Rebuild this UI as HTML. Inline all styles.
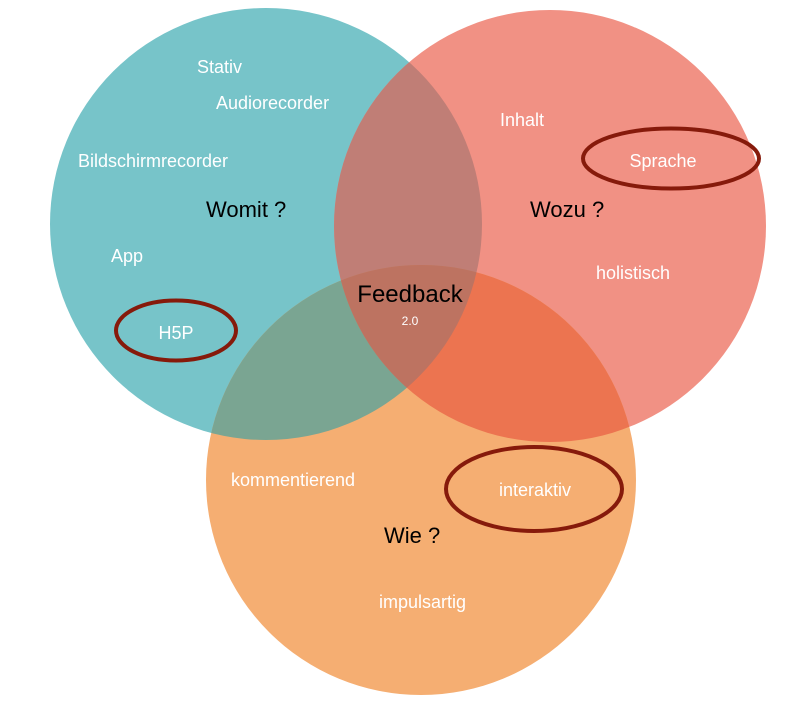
<!DOCTYPE html>
<html><head><meta charset="utf-8"><style>
html,body{margin:0;padding:0;background:#fff;}
svg{display:block;}
text{font-family:"Liberation Sans",Arial,sans-serif;}
.w{fill:#fff;font-size:18px;}
.b{fill:#000;font-size:22px;}
</style></head><body>
<svg width="810" height="709" viewBox="0 0 810 709" xmlns="http://www.w3.org/2000/svg">
<defs>
<clipPath id="cT"><circle cx="266" cy="224" r="216"/></clipPath>
<clipPath id="cR"><circle cx="550" cy="226" r="216"/></clipPath>
<clipPath id="cTR" clip-path="url(#cT)"><circle cx="550" cy="226" r="216"/></clipPath>
</defs>
<circle cx="266" cy="224" r="216" fill="#77c4c9"/>
<circle cx="550" cy="226" r="216" fill="#f19184"/>
<circle cx="421" cy="480" r="215" fill="#f5ae72"/>
<!-- teal & red -->
<circle cx="550" cy="226" r="216" fill="#c07e76" clip-path="url(#cT)"/>
<!-- teal & orange -->
<circle cx="421" cy="480" r="215" fill="#7aa592" clip-path="url(#cT)"/>
<!-- red & orange -->
<circle cx="421" cy="480" r="215" fill="#ec7450" clip-path="url(#cR)"/>
<!-- triple -->
<circle cx="421" cy="480" r="215" fill="#bd7361" clip-path="url(#cTR)"/>

<ellipse cx="176" cy="330.5" rx="60" ry="30" fill="none" stroke="#861a0b" stroke-width="4"/>
<ellipse cx="671" cy="158.5" rx="88" ry="30" fill="none" stroke="#861a0b" stroke-width="4"/>
<ellipse cx="534" cy="489" rx="88" ry="42" fill="none" stroke="#861a0b" stroke-width="4"/>

<text class="w" x="197" y="73">Stativ</text>
<text class="w" x="216" y="109">Audiorecorder</text>
<text class="w" x="78" y="167">Bildschirmrecorder</text>
<text class="b" x="206" y="217">Womit ?</text>
<text class="w" x="111" y="262">App</text>
<text class="w" x="176" y="339" text-anchor="middle">H5P</text>
<text class="w" x="500" y="126">Inhalt</text>
<text class="w" x="663" y="167" text-anchor="middle">Sprache</text>
<text class="b" x="530" y="217">Wozu ?</text>
<text class="w" x="596" y="279">holistisch</text>
<text x="410" y="302" text-anchor="middle" style="font-size:24px;fill:#000">Feedback</text>
<text x="410" y="325" text-anchor="middle" style="font-size:12px;fill:#fff">2.0</text>
<text class="w" x="231" y="486">kommentierend</text>
<text class="w" x="535" y="496" text-anchor="middle">interaktiv</text>
<text class="b" x="384" y="543">Wie ?</text>
<text class="w" x="379" y="608">impulsartig</text>
</svg>
</body></html>
